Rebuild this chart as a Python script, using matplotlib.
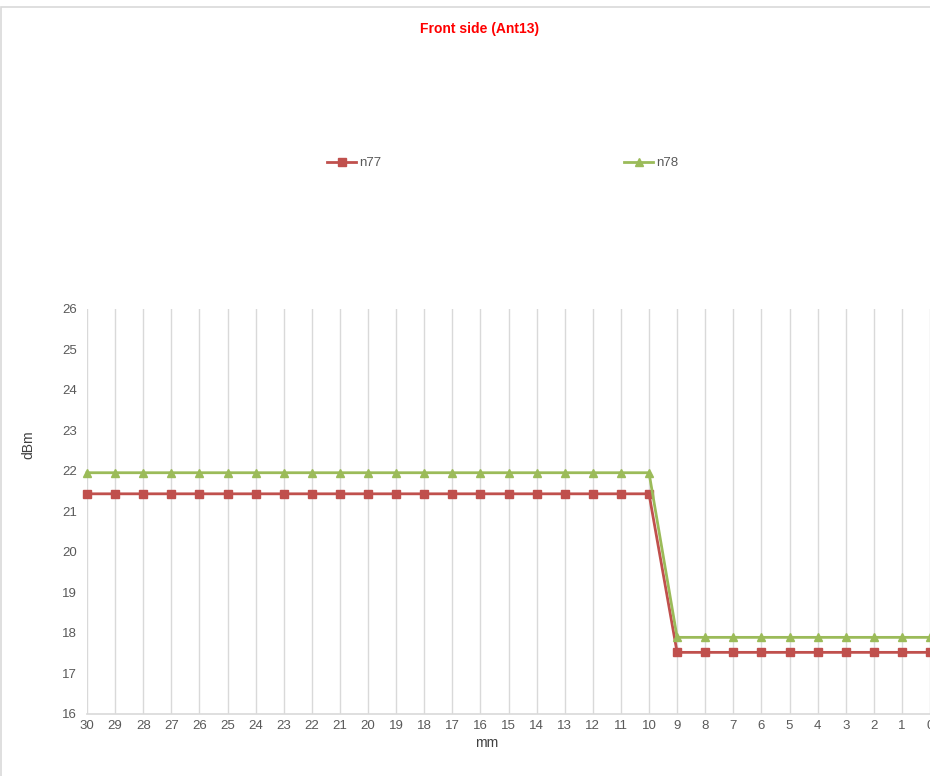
import matplotlib
matplotlib.use("Agg")
import matplotlib.pyplot as plt
from matplotlib.lines import Line2D
from matplotlib.patches import Rectangle

# Distance from the front side (mm), shown from 30 down to 0
distance_mm = list(range(30, -1, -1))
tick_labels = [str(d) for d in distance_mm]

# Measured power (dBm) per band
n77_dbm = [21.43] * 21 + [17.52] * 10
n78_dbm = [21.95] * 21 + [17.89] * 10

title_text = "Front side (Ant13)"
series_names = ["n77", "n78"]
colors = {"n77": "#C0504D", "n78": "#9BBB59"}
text_gray = "#595959"

plt.rcParams["font.family"] = ["Liberation Sans", "DejaVu Sans"]

W, H = 930, 776
fig = plt.figure(figsize=(W / 100, H / 100), dpi=100)

# Chart area border (left and top edges)
fig.add_artist(Rectangle((1 / W, -0.1), 1.2, (H - 7) / H + 0.1,
                         transform=fig.transFigure, fill=False,
                         edgecolor="#D9D9D9", linewidth=1.2))

left, right = 87 / W, 930 / W
bottom, top = (H - 714) / H, (H - 308.5) / H
ax = fig.add_axes([left, bottom, right - left, top - bottom])

ax.plot(distance_mm, n77_dbm, color=colors["n77"], lw=2.0, marker="s",
        ms=6, mec=colors["n77"], clip_on=False, zorder=3)
ax.plot(distance_mm, n78_dbm, color=colors["n78"], lw=2.0, marker="^",
        ms=6, mec=colors["n78"], clip_on=False, zorder=3)

ax.set_xlim(30, 0)
ax.set_ylim(16, 26)
ax.set_xticks(distance_mm)
ax.set_xticklabels(tick_labels)
ax.set_yticks(range(16, 27))

ax.grid(axis="x", color="#D9D9D9", lw=1.0)
ax.set_axisbelow(True)
for s in ["top", "right", "left"]:
    ax.spines[s].set_visible(False)
ax.spines["bottom"].set_color("#D9D9D9")
ax.spines["bottom"].set_linewidth(1.2)
ax.tick_params(axis="both", length=0, colors=text_gray, labelsize=9.5)
ax.tick_params(axis="y", pad=7)
ax.tick_params(axis="x", pad=4)

# Axis titles
fig.text(487 / W, 1 - 743 / H, "mm", color="#404040", fontsize=10,
         ha="center", va="center")
fig.text(28 / W, 1 - 445 / H, "dBm", color="#404040", fontsize=10,
         ha="center", va="center", rotation=90)

fig.text(480 / W, 1 - 29 / H, title_text, color="#FF0000", fontsize=10,
         fontweight="bold", ha="center", va="center",
         family=["Liberation Sans Narrow", "Liberation Sans", "DejaVu Sans"])

# Legend entries placed separately across the top
for name, marker, x0 in [("n77", "s", 327), ("n78", "^", 624)]:
    h = Line2D([], [], color=colors[name], lw=2.0, marker=marker, ms=6,
               mec=colors[name])
    fig.legend([h], [name], loc="center left",
               bbox_to_anchor=(x0 / W, 1 - 163 / H), frameon=False,
               handlelength=2.2, handletextpad=0.2, borderpad=0,
               borderaxespad=0, fontsize=9.5, labelcolor=text_gray)

fig.savefig("out.png", dpi=100)
